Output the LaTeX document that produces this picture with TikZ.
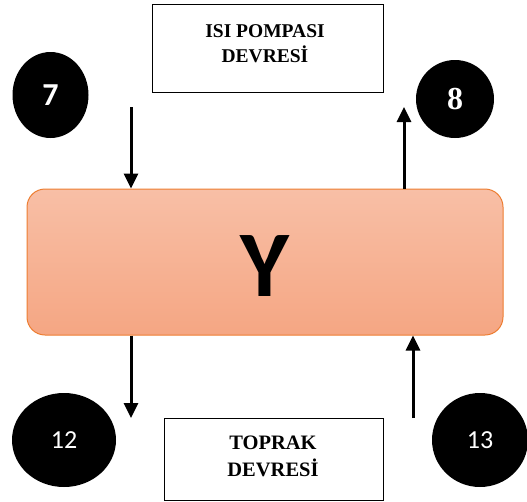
\documentclass[tikz,border=0pt]{standalone}
\usepackage{fontspec}
\setmainfont{Liberation Serif}
\newfontfamily\calfont{Carlito}
\usetikzlibrary{shapes.geometric,arrows.meta}
\definecolor{boxtop}{RGB}{248,191,166}
\definecolor{boxbot}{RGB}{245,166,131}
\definecolor{boxedge}{RGB}{237,125,49}
\tikzset{
  blob/.style={ellipse,fill=black,draw=none,text=white,inner sep=0pt},
  plainbox/.style={rectangle,draw=black,line width=1pt,fill=white,inner sep=0pt},
  arr/.style={line width=3pt,-{Triangle[width=14pt,length=15pt]}},
  lbl/.style={font=\bfseries\fontsize{19.5}{25}\selectfont,align=center,inner sep=0pt}
}
\begin{document}
\begin{tikzpicture}[x=1pt,y=-1pt]
\useasboundingbox (0,0) rectangle (527,501);
% top box
\node[plainbox,minimum width=231pt,minimum height=88pt] (hp) at (267.5,48) {};
\node[lbl,anchor=base] (hpt) at (265,62) {ISI POMPASI\\DEVRES\.{I}};
% bottom box
\node[plainbox,minimum width=219pt,minimum height=82pt] (tp) at (273.5,459) {};
\node[lbl,font=\bfseries\fontsize{20.5}{27}\selectfont,anchor=base] (tpt) at (273,476) {TOPRAK\\DEVRES\.{I}};
% main box
\node[rectangle,rounded corners=18pt,draw=boxedge,line width=1pt,top color=boxtop,bottom color=boxbot,minimum width=476pt,minimum height=146pt] (Y) at (265,262) {};
\node[font=\calfont\bfseries\fontsize{94}{94}\selectfont] (Yt) at (265,266) {Y};
% circles
\node[blob,minimum width=76pt,minimum height=86pt,font=\calfont\bfseries\fontsize{32}{32}\selectfont] (c7) at (50.5,95) {7};
\node[blob,minimum width=78pt,minimum height=78pt,font=\bfseries\fontsize{32}{32}\selectfont] (c8) at (455,99) {8};
\node[blob,minimum width=104pt,minimum height=94pt,font=\calfont\fontsize{26}{26}\selectfont] (c12) at (64,440) {12};
\node[blob,minimum width=96pt,minimum height=94pt,font=\calfont\fontsize{26}{26}\selectfont] (c13) at (480,440) {13};
% arrows
\coordinate (a7) at (131,107);
\coordinate (a8) at (404,107);
\coordinate (a12) at (131,418);
\coordinate (a13) at (413,418);
\draw[arr] (a7) -- (a7 |- Y.north);
\draw[arr] (a8 |- Y.north) -- (a8);
\draw[arr] (a12 |- Y.south) -- (a12);
\draw[arr] (a13) -- (a13 |- Y.south);
\end{tikzpicture}
\end{document}
